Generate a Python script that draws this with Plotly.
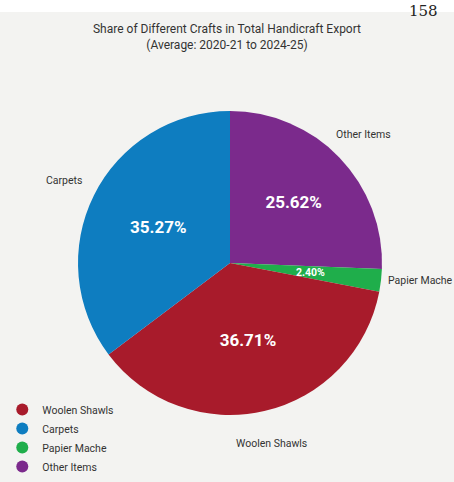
import numpy as np
import plotly.graph_objects as go

# Data (clockwise from 12 o'clock)
slice_labels = ["Other Items", "Papier Mache", "Woolen Shawls", "Carpets"]
slice_values = [25.62, 2.40, 36.71, 35.27]
slice_colors = ["#7b2a8c", "#1fae4b", "#a81b2b", "#0e7dc0"]

legend_labels = ["Woolen Shawls", "Carpets", "Papier Mache", "Other Items"]
legend_colors = ["#a81b2b", "#0e7dc0", "#1fae4b", "#7b2a8c"]

title_line1 = "Share of Different Crafts in Total Handicraft Export"
title_line2 = "(Average: 2020-21 to 2024-25)"
page_number = "158"

W, H = 454, 482
cx, cy, r = 230, 263, 152
dom_x = [(cx - r) / W, (cx + r) / W]
dom_y = [(H - cy - r) / H, (H - cy + r) / H]

FONT = "Roboto, Liberation Sans, Arial, sans-serif"
TEXT_COL = "#333333"

# slice mid-angles (clockwise from top) derived from the values
vals = np.array(slice_values)
frac = vals / vals.sum()
mid = (np.cumsum(frac) - frac / 2) * 2 * np.pi


def to_paper(k, ang):
    px = cx + k * r * np.sin(ang)
    py = cy - k * r * np.cos(ang)
    return px / W, 1 - py / H


fig = go.Figure()

# inside percentages; the thinnest slice gets its label as an annotation
inside_text = [f"{v:.2f}%" if f > 0.05 else "" for v, f in zip(slice_values, frac)]

fig.add_trace(go.Pie(
    labels=slice_labels,
    values=slice_values,
    sort=False,
    direction="clockwise",
    rotation=0,
    marker=dict(colors=slice_colors, line=dict(width=0)),
    text=inside_text,
    textinfo="text",
    textposition="inside",
    insidetextorientation="horizontal",
    textfont=dict(family=FONT, size=17, color="white", weight="bold"),
    domain=dict(x=dom_x, y=dom_y),
    showlegend=False,
    hoverinfo="label+value",
))

# Legend entries (circle markers) in the reference order
for name, col in zip(legend_labels, legend_colors):
    fig.add_trace(go.Scatter(
        x=[None], y=[None], mode="markers", name=name,
        marker=dict(symbol="circle", size=11, color=col),
        showlegend=True,
    ))

annotations = []
# outside category labels
for lab, ang in zip(slice_labels, mid):
    s = np.sin(ang)
    if abs(s) > 0.9:  # label beside the pie: anchor its near edge
        ax, ay = to_paper(1.03, ang)
        xanchor = "left" if s > 0 else "right"
    else:
        ax, ay = to_paper(1.22, ang)
        xanchor = "center"
    annotations.append(dict(
        text=lab, xref="paper", yref="paper", x=ax, y=ay,
        xanchor=xanchor, yanchor="middle", showarrow=False,
        font=dict(family=FONT, size=10.5, color=TEXT_COL),
    ))
# small-slice percentage
for v, f, ang in zip(slice_values, frac, mid):
    if f <= 0.05:
        ax, ay = to_paper(0.53, ang)
        annotations.append(dict(
            text=f"{v:.2f}%", xref="paper", yref="paper", x=ax, y=ay,
            xanchor="center", yanchor="middle", showarrow=False,
            font=dict(family=FONT, size=10.5, color="white", weight="bold"),
        ))
# page number from the scanned page
annotations.append(dict(
    text=page_number, xref="paper", yref="paper",
    x=0.97, y=1.0, xanchor="right", yanchor="top", showarrow=False,
    font=dict(family="DejaVu Serif, serif", size=15, color="#222222"),
))

fig.update_layout(
    width=W, height=H,
    margin=dict(l=0, r=0, t=0, b=0),
    paper_bgcolor="#f3f3f1",
    plot_bgcolor="rgba(0,0,0,0)",
    xaxis=dict(visible=False),
    yaxis=dict(visible=False),
    title=dict(
        text=title_line1 + "<br>" + title_line2,
        x=0.5, xanchor="center",
        y=1 - 33 / H, yanchor="top",
        font=dict(family=FONT, size=12, color=TEXT_COL),
    ),
    legend=dict(
        x=0.005, y=1 - 395 / H, xanchor="left", yanchor="top",
        bgcolor="rgba(0,0,0,0)",
        font=dict(family=FONT, size=10.5, color=TEXT_COL),
        itemsizing="constant",
        tracegroupgap=0,
    ),
    shapes=[dict(type="rect", xref="paper", yref="paper",
                 x0=0, x1=1, y0=1 - 12 / H, y1=1,
                 fillcolor="#ffffff", line=dict(width=0), layer="below")],
    annotations=annotations,
)

fig.write_html("out.html")
